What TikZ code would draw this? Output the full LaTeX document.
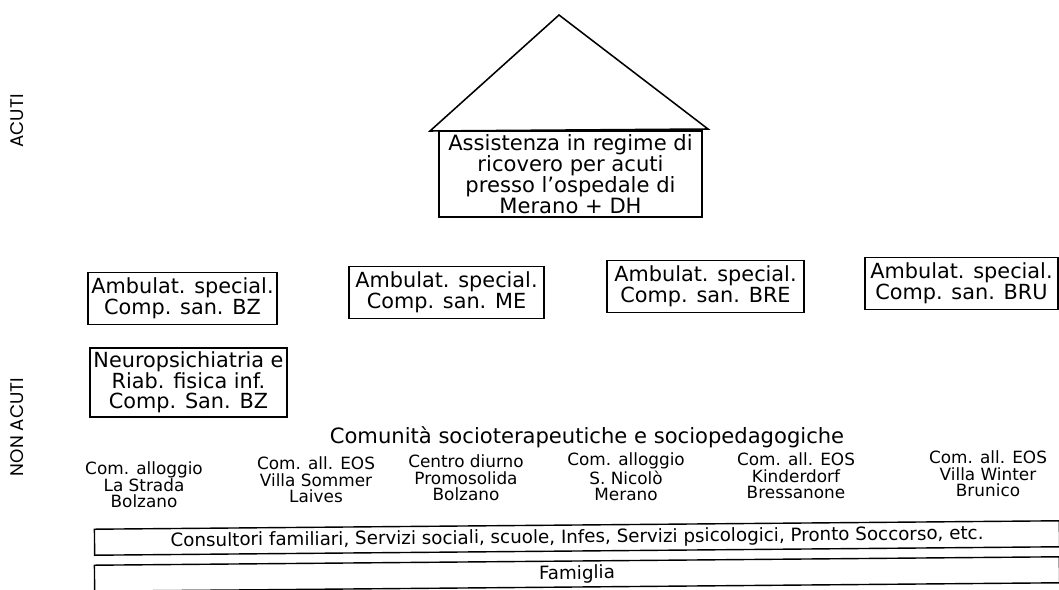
\documentclass[tikz,border=0pt]{standalone}
\usepackage{fontspec}
\setmainfont{DejaVu Sans}
\newfontfamily\sidefont{Poppins}
\usetikzlibrary{positioning}

\begin{document}
\begin{tikzpicture}[x=0.25mm, y=-0.25mm]
  \def\px{0.25mm}
  \tikzstyle{ward} = [draw, line width=1.3pt, align=center, inner sep=0pt, font=\fontsize{15}{14.9}\selectfont]
  \tikzstyle{clinic} = [draw, line width=1.3pt, align=center, inner sep=0pt, minimum width=195*\px, minimum height=52*\px, font=\fontsize{14.8}{13.6}\selectfont]
  \tikzstyle{community} = [align=center, inner sep=0pt, font=\fontsize{12}{11.8}\selectfont]
  \tikzstyle{strip} = [draw, line width=1pt, minimum width=965*\px, minimum height=26*\px, inner sep=0pt, rotate=0.5, font=\fontsize{13}{13}\selectfont]
  \tikzstyle{side} = [rotate=90, inner sep=0pt, font=\sidefont\fontsize{13}{13}\selectfont]

  \useasboundingbox (0,0) rectangle (1059,590);
  \clip (0,0) rectangle (1059,590);

  \node[side] (acuti) at (17,121) {ACUTI};
  \node[side] (nonacuti) at (17,427) {NON ACUTI};

  % ospedale
  \coordinate (apex) at (559,15);
  \coordinate (eaveL) at (430,131);
  \coordinate (eaveR) at (708,129);
  \draw[line width=1.1pt, line join=miter] (eaveL) -- (apex) -- (eaveR) -- cycle;
  \node[ward, minimum width=263*\px, minimum height=86*\px] (ricovero) at (570.5,174)
    {Assistenza in regime di\\ricovero per acuti\\presso l'ospedale di\\Merano + DH};

  \node[clinic, minimum width=189*\px] (ambBZ) at (182.5,298.5) {Ambulat. special.\\Comp. san. BZ};
  \node[clinic] (ambME) at (446.5,292.5) {Ambulat. special.\\Comp. san. ME};
  \node[clinic, minimum width=197*\px] (ambBRE) at (705.5,286.5) {Ambulat. special.\\Comp. san. BRE};
  \node[clinic, minimum width=193*\px] (ambBRU) at (961.5,283.5) {Ambulat. special.\\Comp. san. BRU};
  \node[clinic, minimum width=197*\px, minimum height=69*\px, font=\fontsize{14.8}{14.4}\selectfont] (neuro) at (188.5,382.5)
    {Neuropsichiatria e\\Riab. fisica inf.\\Comp. San. BZ};

  % comunita
  \node[community, font=\fontsize{15}{15}\selectfont] (comunita) at (587,437)
    {Comunità socioterapeutiche e sociopedagogiche};
  \node[community] (strada) at (144,485) {Com. alloggio\\La Strada\\Bolzano};
  \node[community] (sommer) at (316,480) {Com. all. EOS\\Villa Sommer\\Laives};
  \node[community] (promo) at (466,478) {Centro diurno\\Promosolida\\Bolzano};
  \node[community] (nicolo) at (626,477) {Com. alloggio\\S. Nicolò\\Merano};
  \node[community] (kinder) at (796,476) {Com. all. EOS\\Kinderdorf\\Bressanone};
  \node[community] (winter) at (988,474) {Com. all. EOS\\Villa Winter\\Brunico};

  \node[strip] (consultori) at (577,538)
    {Consultori familiari, Servizi sociali, scuole, Infes, Servizi psicologici, Pronto Soccorso, etc.};
  \node[strip] (famiglia) at (577,574) {Famiglia};

\end{tikzpicture}
\end{document}
